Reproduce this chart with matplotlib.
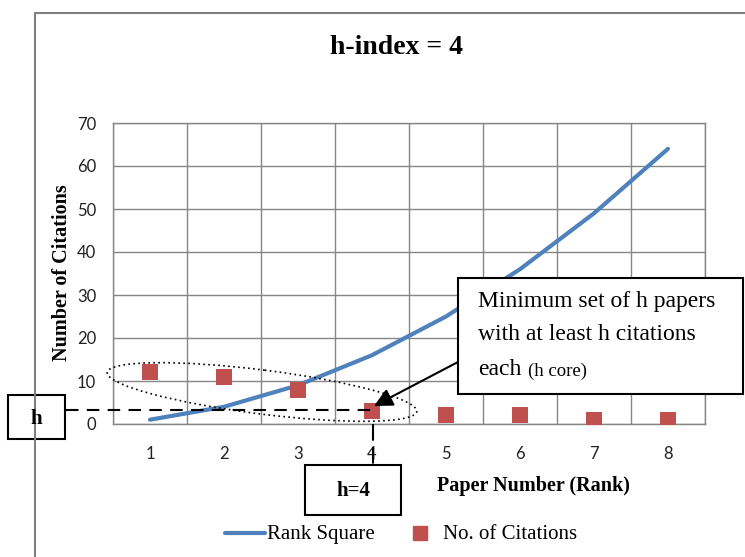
import numpy as np
import matplotlib.pyplot as plt
from matplotlib.patches import Ellipse, Rectangle

# data
ranks = [1, 2, 3, 4, 5, 6, 7, 8]
rank_square = [1, 4, 9, 16, 25, 36, 49, 64]
citations = [12, 11, 8, 3, 2, 2, 1, 1]
y_ticks = [0, 10, 20, 30, 40, 50, 60, 70]
series_names = ['Rank Square', 'No. of Citations']

blue = '#4f81bd'
red = '#c0504d'
grid_c = '#868686'
serif = ['Liberation Serif', 'DejaVu Serif']
sans = ['Lato', 'DejaVu Sans']

W, H = 745, 557
fig = plt.figure(figsize=(W / 100, H / 100), dpi=100)
fig.patch.set_facecolor('white')

ax = fig.add_axes([113 / W, 1 - 424 / H, (705 - 113) / W, (424 - 123) / H])
ax.plot(ranks, rank_square, color=blue, lw=3, solid_capstyle='round', zorder=3)
ax.scatter(ranks, citations, marker='s', s=140, color=red, zorder=4, linewidths=0)

ax.set_xlim(0.5, 8.5)
ax.set_ylim(0, 70)
ax.set_yticks(y_ticks)
ax.set_xticks(ranks)
ax.set_xticks(np.arange(0.5, 9, 1), minor=True)
ax.grid(True, axis='y', color=grid_c, lw=1)
ax.grid(True, axis='x', which='minor', color=grid_c, lw=1)
ax.grid(False, axis='x', which='major')
ax.tick_params(which='both', length=0)
ax.tick_params(axis='x', pad=16)
ax.tick_params(axis='y', pad=12)
for lab in ax.get_xticklabels() + ax.get_yticklabels():
    lab.set_family(sans)
    lab.set_fontsize(12)
    lab.set_color('#222222')
for s in ax.spines.values():
    s.set_color(grid_c)
    s.set_linewidth(1)
ax.set_axisbelow(True)

# texts in pixel positions
def fx(x):
    return x / W

def fy(y):
    return 1 - y / H

fig.text(fx(396), fy(48), 'h-index = 4', family=serif, weight='bold', fontsize=20, ha='center', va='center')
fig.text(fx(62), fy(273), 'Number of Citations', family=serif, weight='bold', fontsize=14.5,
         rotation=90, ha='center', va='center')
fig.text(fx(533), fy(486), 'Paper Number (Rank)', family=serif, weight='bold', fontsize=14.5,
         ha='center', va='center')

# overlay for annotation shapes, pixel coords
ov = fig.add_axes([0, 0, 1, 1], zorder=10)
ov.set_xlim(0, W)
ov.set_ylim(H, 0)
ov.axis('off')
ov.patch.set_visible(False)

# outer chart border
ov.plot([35, 35, W], [H, 13, 13], color='#808080', lw=1.5)

# legend
ov.plot([225, 265], [533, 533], color=blue, lw=3, solid_capstyle='round')
ov.text(267, 539, series_names[0], family=serif, fontsize=15, ha='left', va='baseline')
ov.plot([420], [533], marker='s', color=red, markersize=10.5, ls='none')
ov.text(443, 539, series_names[1], family=serif, fontsize=15, ha='left', va='baseline')

ov.add_patch(Ellipse((262, 392), 312, 44, angle=7.2, fill=False, ls=(0, (1, 2)), lw=1.2, color='black'))
ov.plot([66, 373], [410, 410], color='black', lw=1.5, ls=(0, (6, 4)))
ov.plot([373, 373], [424, 465], color='black', lw=1.5, ls=(0, (8, 3)))

ov.add_patch(Rectangle((8, 395), 57, 44, fill=True, facecolor='white', edgecolor='black', lw=1.5))
ov.text(36.5, 419, 'h', family=serif, weight='bold', fontsize=15, ha='center', va='center')
ov.add_patch(Rectangle((305, 465), 96, 50, fill=True, facecolor='white', edgecolor='black', lw=1.5))
ov.text(353, 491, 'h=4', family=serif, weight='bold', fontsize=15, ha='center', va='center')

ov.add_patch(Rectangle((458, 278), 285, 116, fill=True, facecolor='white', edgecolor='black', lw=1.5))
ov.text(478, 302, 'Minimum set of h papers', family=serif, fontsize=17, ha='left', va='center')
ov.text(478, 335, 'with at least h citations', family=serif, fontsize=17, ha='left', va='center')
t = ov.text(478, 375, 'each', family=serif, fontsize=17, ha='left', va='baseline')
ov.annotate('(h core)', xy=(1, 0), xycoords=t, xytext=(5, 0), textcoords='offset points',
            family=serif, fontsize=13.5, ha='left', va='bottom')

ov.annotate('', xy=(374, 406), xytext=(458, 362),
            arrowprops=dict(arrowstyle='-|>', mutation_scale=28, color='black', lw=1.5, shrinkA=0, shrinkB=0))

fig.savefig('out.png', dpi=100)
